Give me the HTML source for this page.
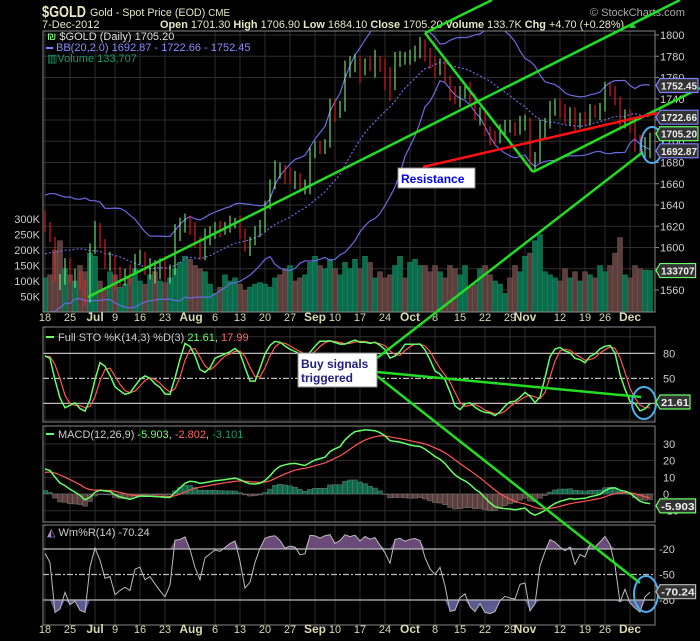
<!DOCTYPE html>
<html><head><meta charset="utf-8">
<style>
html,body{margin:0;padding:0;background:#000;}
svg{display:block;font-family:"Liberation Sans",sans-serif;}
</style></head>
<body>
<svg id="chart" width="700" height="641" viewBox="0 0 700 641" xmlns="http://www.w3.org/2000/svg">
<rect x="0" y="0" width="700" height="641" fill="#000"/>
<defs>
<clipPath id="cpMain"><rect x="43" y="31" width="612" height="281"/></clipPath>
<clipPath id="cpSto"><rect x="43" y="327" width="612" height="95"/></clipPath>
<clipPath id="cpMacd"><rect x="43" y="426" width="612" height="96"/></clipPath>
<clipPath id="cpWr"><rect x="43" y="525" width="612" height="100"/></clipPath>
</defs>
<g id="header">
<text x="42" y="17" fill="#e8e8c8" font-size="16" font-weight="bold" textLength="44" lengthAdjust="spacingAndGlyphs">$GOLD</text>
<text x="90" y="16" fill="#e8e8c8" font-size="11" textLength="140" lengthAdjust="spacingAndGlyphs">Gold - Spot Price (EOD) <tspan font-size="10">CME</tspan></text>
<text x="590" y="16" fill="#aaa" font-size="11">© StockCharts.com</text>
<text x="42" y="28" fill="#e8e8c8" font-size="11">7-Dec-2012</text>
<text x="160" y="28" fill="#e8e8c8" font-size="11" textLength="478" lengthAdjust="spacingAndGlyphs"><tspan font-weight="bold">Open</tspan> 1701.30 <tspan font-weight="bold">High</tspan> 1706.90 <tspan font-weight="bold">Low</tspan> 1684.10 <tspan font-weight="bold">Close</tspan> 1705.20 <tspan font-weight="bold">Volume</tspan> 133.7K <tspan font-weight="bold">Chg</tspan> +4.70 (+0.28%) <tspan fill="#3c3">▲</tspan></text>
</g>
<g id="grid"></g>
<g id="vol" clip-path="url(#cpMain)"></g>
<g id="bb" clip-path="url(#cpMain)"></g>
<g id="candles" clip-path="url(#cpMain)"></g>
<g id="sto" clip-path="url(#cpSto)"></g>
<g id="macd" clip-path="url(#cpMacd)"></g>
<g id="wr" clip-path="url(#cpWr)"></g>
<g id="frames"></g>
<g id="axes"></g>
<g id="legends">
<text x="47" y="40" fill="#ddd" font-size="11"><tspan fill="#7f7">₪</tspan> $GOLD (Daily) 1705.20</text>
<line x1="46" y1="48" x2="53" y2="48" stroke="#8080ff" stroke-width="2"/>
<text x="56" y="51" fill="#8c8cff" font-size="11">BB(20,2.0) 1692.87 - 1722.66 - 1752.45</text>
<text x="47" y="62" fill="#1a9a6a" font-size="11">▥Volume 133,707</text>
<line x1="46" y1="337" x2="54" y2="337" stroke="#6f6" stroke-width="2"/>
<text x="58" y="341" fill="#ccc" font-size="11">Full STO %K(14,3) %D(3) <tspan fill="#6f6">21.61</tspan>, <tspan fill="#f66">17.99</tspan></text>
<line x1="46" y1="434" x2="54" y2="434" stroke="#6f6" stroke-width="2"/>
<text x="58" y="438" fill="#ccc" font-size="11">MACD(12,26,9) <tspan fill="#6f6">-5.903</tspan>, <tspan fill="#f66">-2.802</tspan>, <tspan fill="#1a9a6a">-3.101</tspan></text>
<text x="47" y="536" fill="#ccc" font-size="11"><tspan fill="#a8c">◭</tspan> Wm%R(14) -70.24</text>
</g>
<g id="annot">
<line x1="88" y1="297" x2="680" y2="0" stroke="#2d2" stroke-width="2.5"/>
<line x1="425" y1="33" x2="492" y2="0" stroke="#2d2" stroke-width="2.5"/>
<line x1="425" y1="33" x2="533" y2="172" stroke="#2d2" stroke-width="2.5"/>
<line x1="533" y1="172" x2="700" y2="88" stroke="#2d2" stroke-width="2.5"/>
<line x1="377" y1="358" x2="643" y2="152" stroke="#2d2" stroke-width="2.5"/>
<line x1="377" y1="372" x2="641" y2="397" stroke="#2d2" stroke-width="2.5"/>
<line x1="377" y1="376" x2="640" y2="583" stroke="#2d2" stroke-width="2.5"/>
<line x1="423" y1="167" x2="657" y2="113" stroke="#f11" stroke-width="2.5"/>
<rect x="398" y="168" width="77" height="20" fill="#fff" stroke="#888"/>
<text x="401" y="183" fill="#0000ee" font-size="12" font-weight="bold">Resistance</text>
<rect x="298" y="353" width="79" height="34" fill="#fff" stroke="#888"/>
<text x="301" y="368" fill="#202080" font-size="12" font-weight="bold">Buy signals</text>
<text x="301" y="382" fill="#202080" font-size="12" font-weight="bold">triggered</text>
<ellipse cx="652" cy="145" rx="11" ry="18" fill="none" stroke="#4ab0f0" stroke-width="2"/>
<ellipse cx="644" cy="403" rx="12" ry="16" fill="none" stroke="#4ab0f0" stroke-width="2"/>
<ellipse cx="646" cy="594" rx="12" ry="18" fill="none" stroke="#4ab0f0" stroke-width="2"/>
</g>
<g id="tags"></g>
</svg>
<script>
var preCloses=[1557,1545,1537,1573,1592,1589,1570,1548,1558,1572,1554,1562,1559,1622,1619,1617,1635,1589,1595,1596,1612,1620,1618,1626];
var opens=[1630,1620,1606,1565,1570,1585,1568,1574,1566,1552,1600,1620,1605,1584,1590,1578,1568,1576,1578,1588,1590,1575,1573,1576,1581,1573,1578,1612,1620,1628,1620,1605,1593,1608,1615,1620,1616,1620,1622,1626,1612,1600,1606,1615,1620,1640,1660,1670,1673,1670,1662,1665,1657,1655,1690,1697,1694,1698,1735,1728,1735,1770,1771,1777,1768,1776,1770,1777,1772,1765,1752,1776,1776,1778,1780,1782,1795,1785,1775,1768,1775,1760,1748,1738,1745,1752,1742,1720,1728,1712,1706,1702,1710,1712,1715,1710,1714,1720,1678,1684,1710,1716,1728,1735,1730,1723,1728,1716,1725,1718,1730,1726,1732,1752,1749,1738,1718,1726,1716,1700,1694,1701];
var closes=[1620,1610,1572,1568,1584,1572,1574,1566,1550,1598,1618,1605,1586,1588,1566,1570,1573,1570,1590,1592,1580,1583,1578,1580,1575,1578,1616,1622,1628,1618,1604,1595,1612,1615,1618,1617,1620,1623,1625,1612,1603,1606,1615,1622,1640,1660,1678,1673,1665,1667,1666,1658,1659,1690,1695,1693,1698,1736,1726,1731,1772,1773,1777,1768,1775,1771,1777,1770,1762,1750,1778,1781,1779,1781,1786,1792,1780,1772,1768,1773,1760,1742,1740,1747,1750,1740,1725,1728,1710,1700,1702,1712,1716,1714,1710,1719,1720,1678,1685,1716,1718,1732,1732,1728,1725,1728,1714,1722,1720,1730,1728,1732,1752,1748,1738,1718,1725,1716,1697,1692,1701,1705];
var highs=[1635,1624,1610,1575,1590,1590,1580,1578,1570,1604,1625,1623,1608,1596,1592,1582,1580,1584,1594,1598,1596,1590,1588,1590,1592,1584,1622,1628,1632,1630,1624,1610,1618,1620,1624,1625,1624,1630,1628,1630,1618,1610,1620,1626,1644,1664,1682,1680,1678,1676,1672,1670,1664,1694,1700,1700,1702,1740,1740,1738,1776,1780,1782,1780,1778,1780,1786,1780,1778,1770,1784,1785,1784,1786,1790,1798,1796,1788,1780,1778,1777,1762,1752,1752,1755,1756,1745,1732,1730,1714,1710,1716,1720,1720,1718,1724,1725,1722,1690,1720,1722,1738,1740,1740,1735,1732,1732,1727,1728,1735,1734,1736,1756,1755,1752,1742,1730,1730,1720,1706,1704,1708];
var lows=[1615,1605,1568,1560,1565,1566,1562,1560,1545,1548,1594,1600,1580,1578,1560,1562,1564,1565,1575,1584,1574,1570,1566,1570,1568,1566,1574,1606,1614,1612,1600,1588,1588,1602,1608,1610,1612,1614,1618,1608,1596,1592,1602,1610,1615,1636,1655,1665,1660,1660,1655,1652,1650,1650,1684,1688,1688,1694,1718,1722,1728,1760,1765,1755,1762,1766,1760,1765,1748,1738,1748,1770,1772,1772,1775,1778,1775,1768,1760,1762,1755,1738,1735,1732,1740,1736,1720,1715,1705,1696,1696,1698,1705,1708,1705,1706,1710,1672,1672,1680,1702,1712,1724,1722,1716,1715,1710,1712,1714,1715,1722,1720,1728,1742,1734,1710,1712,1708,1690,1688,1684,1684];
var volumes=[110,120,200,230,140,120,100,150,130,190,180,100,70,130,120,80,90,110,140,100,90,120,130,100,95,110,140,160,180,170,150,140,130,90,60,80,120,100,110,90,70,80,90,95,90,80,110,120,140,150,100,110,120,160,180,150,140,170,140,120,160,140,170,140,180,160,110,130,110,120,150,180,110,160,170,150,150,130,150,130,110,150,140,120,150,80,90,140,150,120,100,90,60,110,150,130,180,190,230,250,130,120,110,100,140,110,130,100,130,120,110,150,130,150,190,240,120,110,150,140,135,134];
var priceTicks=[1800,1780,1760,1740,1720,1700,1680,1660,1640,1620,1600,1580,1560];
var volTicks=[50,100,150,200,250,300];
var dateLabels=["18","25","Jul","9","16","23","Aug","6","13","20","27","Sep","10","17","24","Oct","8","15","22","29","Nov","12","19","26","Dec"];
var dateIdx=[0,5,10,14,19,24,31,34,39,44,49,54,58,63,68,73,78,83,88,93,96,103,108,112,117];
var stoTicks=[80,50,20];
var macdTicks=[30,20,10,0,-10];
var wrTicks=[-20,-50,-80];

var NS="http://www.w3.org/2000/svg";
function el(tag,attrs,parent){var e=document.createElementNS(NS,tag);for(var k in attrs)e.setAttribute(k,attrs[k]);parent.appendChild(e);return e;}
var L=43,R=655;
function X(i){return 45+i*5;}
function PY(p){return 35+(1800-p)*1.0625;}
function VY(v){return 312-v*0.31;}
function SY(v){return 420-v*0.833;}
function MY(v){return 494-v*1.67;}
function WY(w){return 532-w*0.85;}

var n=closes.length;
var allC=preCloses.concat(closes);
var allH=preCloses.map(function(c){return c+8;}).concat(highs);
var allL=preCloses.map(function(c){return c-8;}).concat(lows);
var P=preCloses.length;
function sma(a,i,k){var s=0,c=0;for(var j=Math.max(0,i-k+1);j<=i;j++){s+=a[j];c++;}return s/c;}
var bbU=[],bbM=[],bbLo=[];
for(var i=0;i<n;i++){var g=i+P,m=sma(allC,g,20),v=0,c=0;for(var j=Math.max(0,g-19);j<=g;j++){v+=(allC[j]-m)*(allC[j]-m);c++;}var sd=Math.sqrt(v/c);bbM.push(m);bbU.push(m+2*sd);bbLo.push(m-2*sd);}
var rawK=[],wr=[];
for(var g=0;g<allC.length;g++){var hh=-1e9,ll=1e9;for(var j=Math.max(0,g-13);j<=g;j++){hh=Math.max(hh,allH[j]);ll=Math.min(ll,allL[j]);}var rng=(hh-ll)||1;rawK.push((allC[g]-ll)/rng*100);wr.push((hh-allC[g])/rng*-100);}
var kS=[],dS=[];for(var g=0;g<allC.length;g++)kS.push(sma(rawK,g,3));for(var g=0;g<allC.length;g++)dS.push(sma(kS,g,3));
function ema(a,k){var out=[],al=2/(k+1);for(var i=0;i<a.length;i++)out.push(i?al*a[i]+(1-al)*out[i-1]:a[i]);return out;}
var e12=ema(allC,12),e26=ema(allC,26),macdL=[];for(var g=0;g<allC.length;g++)macdL.push(e12[g]-e26[g]);
var sig=ema(macdL,9);

var grid=document.getElementById('grid');
var panels=[[31,312],[327,422],[426,522],[525,625]];
dateIdx.forEach(function(di,k){if(dateLabels[k]==="Aug")return;panels.forEach(function(p){var gl=el('line',{x1:X(di),x2:X(di),y1:p[0],y2:p[1],stroke:'#2e2e2e','stroke-width':1},grid);});});
priceTicks.forEach(function(t){var gl=el('line',{x1:L,x2:R,y1:PY(t),y2:PY(t),stroke:'#2e2e2e'},grid);});
macdTicks.forEach(function(t){var gl=el('line',{x1:L,x2:R,y1:MY(t),y2:MY(t),stroke:'#2e2e2e'},grid);});
[100,0].forEach(function(t){var gl=el('line',{x1:L,x2:R,y1:SY(t),y2:SY(t),stroke:'#2e2e2e'},grid);});

var vol=document.getElementById('vol');
for(var i=0;i<n;i++){var up=i===0?true:closes[i]>=closes[i-1];
var b=el('rect',{x:X(i)-2.5,y:VY(volumes[i]),width:5,height:312-VY(volumes[i]),fill:up?'#0b6b4a':'#5c3f3c',stroke:up?'#168a60':'#7a5550','stroke-width':0.5},vol);
}

var bb=document.getElementById('bb');
function poly(arr,f,xf){return arr.map(function(v,i){return xf(i).toFixed(1)+','+f(v).toFixed(1);}).join(' ');}
var pu=el('polyline',{points:poly(bbU,PY,X),fill:'none',stroke:'#6a6ae0','stroke-width':1.2},bb);
var pl=el('polyline',{points:poly(bbLo,PY,X),fill:'none',stroke:'#6a6ae0','stroke-width':1.2},bb);
var pm=el('polyline',{points:poly(bbM,PY,X),fill:'none',stroke:'#6a6ae0','stroke-width':1.2,'stroke-dasharray':'2,2'},bb);

var cg=document.getElementById('candles');
for(var i=0;i<n;i++){var up=closes[i]>=opens[i],col=up?'#8f8':'#f00';
var w=el('line',{x1:X(i),x2:X(i),y1:PY(highs[i]),y2:PY(lows[i]),stroke:up?'#8f8':'#f22','stroke-width':1},cg);
var top=PY(Math.max(opens[i],closes[i])),bot=PY(Math.min(opens[i],closes[i]));
var bd=el('rect',{x:X(i)-1.8,y:top,width:3.6,height:Math.max(1,bot-top),fill:up?'#000':'#f00',stroke:col,'stroke-width':1},cg);}

var sg=document.getElementById('sto');
[[80,'none'],[20,'none'],[50,'6,2,2,2']].forEach(function(r){var ln=el('line',{x1:L,x2:R,y1:SY(r[0]),y2:SY(r[0]),stroke:'#bbb','stroke-width':1.2,'stroke-dasharray':r[1]},sg);});
var kk=kS.slice(P),dd=dS.slice(P);
var sd2=el('polyline',{points:poly(dd,SY,X),fill:'none',stroke:'#f55','stroke-width':1.2},sg);
var sk=el('polyline',{points:poly(kk,SY,X),fill:'none',stroke:'#6f6','stroke-width':1.5},sg);

var mg=document.getElementById('macd');
var mm=macdL.slice(P),ss=sig.slice(P);
for(var i=0;i<n;i++){var h=mm[i]-ss[i];var y0=MY(0),y1=MY(h);
var hb=el('rect',{x:X(i)-2.5,y:Math.min(y0,y1),width:5,height:Math.max(0.5,Math.abs(y1-y0)),fill:h>=0?'#0b6b4a':'#5c3f3c',stroke:'#777','stroke-width':0.5},mg);}
var ms=el('polyline',{points:poly(ss,MY,X),fill:'none',stroke:'#f55','stroke-width':1.2},mg);
var ml=el('polyline',{points:poly(mm,MY,X),fill:'none',stroke:'#6f6','stroke-width':1.5},mg);

var wg=document.getElementById('wr');
var ww=wr.slice(P);
function fillPoly(th,above){var pts=[];for(var i=0;i<n;i++){var v=above?Math.max(ww[i],th):Math.min(ww[i],th);pts.push(X(i).toFixed(1)+','+WY(v).toFixed(1));}pts.push(X(n-1)+','+WY(th));pts.push(X(0)+','+WY(th));return pts.join(' ');}
var fa=el('polygon',{points:fillPoly(-20,true),fill:'#6a4a78'},wg);
var fb=el('polygon',{points:fillPoly(-80,false),fill:'#5a5a90'},wg);
[[-20,'none'],[-80,'none'],[-50,'6,2,2,2']].forEach(function(r){var ln=el('line',{x1:L,x2:R,y1:WY(r[0]),y2:WY(r[0]),stroke:'#bbb','stroke-width':1.2,'stroke-dasharray':r[1]},wg);});
var wl=el('polyline',{points:poly(ww,WY,X),fill:'none',stroke:'#bbb','stroke-width':1},wg);

var fr=document.getElementById('frames');
panels.forEach(function(p){var r=el('rect',{x:L,y:p[0],width:R-L,height:p[1]-p[0],fill:'none',stroke:'#888','stroke-width':1},fr);});

var ax=document.getElementById('axes');
function txt(x,y,s,anchor,name,extra){var t=el('text',{x:x,y:y,fill:'#ccc','font-size':11,'text-anchor':anchor||'start'},ax);if(extra)for(var k in extra)t.setAttribute(k,extra[k]);t.textContent=s;return t;}
priceTicks.forEach(function(t){el('line',{x1:R,x2:R+4,y1:PY(t),y2:PY(t),stroke:'#888'},ax);txt(R+5,PY(t)+4,String(t),'start','price-tick-label');});
volTicks.forEach(function(t){txt(40,VY(t)+4,t+'K','end','volume-tick-label');});
stoTicks.forEach(function(t){txt(R+8,SY(t)+4,String(t),'start','sto-tick-label');});
macdTicks.forEach(function(t){txt(R+8,MY(t)+4,String(t),'start','macd-tick-label');});
wrTicks.forEach(function(t){txt(R+4,WY(t)+4,String(t),'start','wr-tick-label');});
dateLabels.forEach(function(s,k){var x=X(dateIdx[k]);if(s==="Aug")x-=9;var bold=isNaN(+s);[321,633].forEach(function(y){txt(x,y,s,'middle','date-label',{fill:'#d8d8b0','font-weight':bold?'bold':'normal','font-size':bold?12:11});});});

var tg=document.getElementById('tags');
function tag(y,s,stroke,name){var w=Math.min(38,s.length*5.6+2);var p=el('path',{d:'M'+(R+1)+','+y+' l4,-7 h'+w+' v14 h-'+w+' z',fill:'#333',stroke:stroke,'stroke-width':1.2},tg);var t=el('text',{x:R+6,y:y+4,fill:'#eee','font-size':10.5,'font-weight':'bold',textLength:(w-2),lengthAdjust:'spacingAndGlyphs'},tg);t.textContent=s;}
tag(PY(1752.45),'1752.45','#8080ff','bb-upper-tag');
tag(PY(1722.66),'1722.66','#8080ff','bb-middle-tag');
tag(PY(1692.87)+2,'1692.87','#8080ff','bb-lower-tag');
tag(PY(1705.20)-2,'1705.20','#6f6','close-tag');
tag(VY(133.7),'133707','#6f6','volume-tag');
tag(SY(21.61),'21.61','#6f6','sto-tag');
tag(MY(-5.9)+2,'-5.903','#6f6','macd-tag');
tag(WY(-70.24),'-70.24','#bbb','wr-tag');
</script>
</body></html>
